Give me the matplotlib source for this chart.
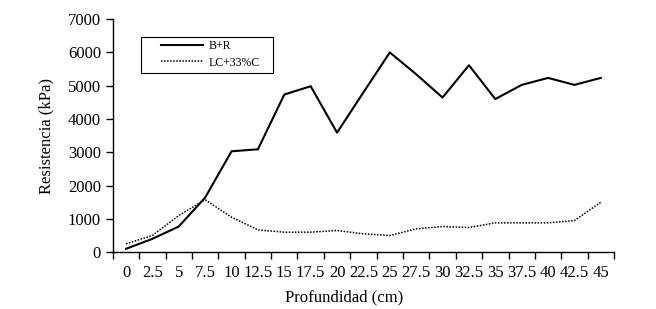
import numpy as np
import matplotlib.pyplot as plt
from matplotlib.patches import Rectangle
from matplotlib.ticker import FixedLocator, NullFormatter, FixedFormatter

# datos
profundidad = ['0', '2.5', '5', '7.5', '10', '12.5', '15', '17.5', '20', '22.5',
               '25', '27.5', '30', '32.5', '35', '37.5', '40', '42.5', '45']
b_r = [100, 400, 770, 1640, 3030, 3090, 4735, 4985, 3590, 4800,
       6000, 5345, 4645, 5615, 4600, 5025, 5235, 5025, 5235]
lc_33c = [250, 500, 1100, 1575, 1050, 670, 600, 600, 650, 550,
          500, 700, 770, 740, 880, 880, 880, 950, 1500]

plt.rcParams['font.family'] = ['Liberation Serif', 'DejaVu Serif']

fig = plt.figure(figsize=(6.56, 3.09), dpi=100)
ax = fig.add_axes([0.172, 0.184, 0.764, 0.754])

x = np.arange(len(profundidad))
ax.plot(x, b_r, 'k-', lw=1.5, label='B+R')
ax.plot(x, lc_33c, 'k', ls=(0, (1, 1)), lw=1.1, label='LC+33%C')

ax.set_xlim(-0.5, len(profundidad) - 0.5)
ax.set_ylim(0, 7000)
ax.set_yticks(range(0, 7001, 1000))

# marcas entre categorias, etiquetas en el centro
ax.xaxis.set_major_locator(FixedLocator(np.arange(-0.5, len(profundidad), 1)))
ax.xaxis.set_major_formatter(NullFormatter())
ax.xaxis.set_minor_locator(FixedLocator(x))
ax.xaxis.set_minor_formatter(FixedFormatter(profundidad))
ax.tick_params(axis='x', which='major', direction='out', length=5, width=1)
ax.tick_params(axis='x', which='minor', length=0, pad=9, labelsize=12)
ax.tick_params(axis='y', direction='out', length=5, width=1, labelsize=12)

for s in ['top', 'right']:
    ax.spines[s].set_visible(False)
for s in ['left', 'bottom']:
    ax.spines[s].set_linewidth(1)

ax.set_xlabel('Profundidad (cm)', fontsize=12, labelpad=6)
ax.xaxis.set_label_coords(0.461, -0.16)
ax.set_ylabel('Resistencia (kPa)', fontsize=12, labelpad=10)

# leyenda sin marco y caja aparte (el original tiene mas margen a la izquierda)
leg = ax.legend(loc='upper left', bbox_to_anchor=(0.096, 0.912), fontsize=8.5,
                frameon=False, handlelength=3.6, borderpad=0, borderaxespad=0,
                labelspacing=0.42, handletextpad=0.4)
ax.add_patch(Rectangle((0.056, 0.768), 0.263, 0.155, transform=ax.transAxes,
                       fill=False, edgecolor='black', lw=0.8, clip_on=False))

fig.savefig('out.png', dpi=100)
